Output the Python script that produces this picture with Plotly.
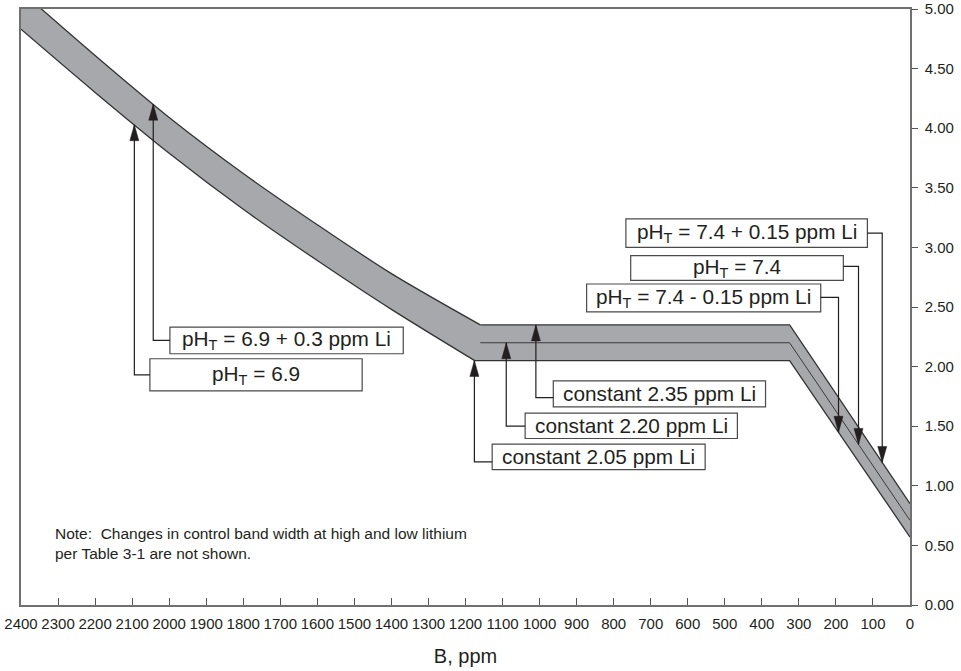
import numpy as np
import plotly.graph_objects as go

# ---- data -----------------------------------------------------------------
# Axis ticks
b_ticks = list(range(0, 2401, 100))
li_ticks = [0.0, 0.5, 1.0, 1.5, 2.0, 2.5, 3.0, 3.5, 4.0, 4.5, 5.0]

# Lower edge of the control band: pH_T = 6.9 curve ...
lower_curve_b = [2400, 2200, 2000, 1800, 1600, 1400, 1175]
lower_curve_li = [4.83, 4.30, 3.79, 3.32, 2.89, 2.48, 2.05]
# ... then constant 2.05 ppm Li and pH_T = 7.4 - 0.15
lower_line_b = [1175, 325, 0]
lower_line_li = [2.05, 2.05, 0.57]

# Upper edge: pH_T = 6.9 + 0.3 curve ...
upper_curve_b = [2400, 2200, 2000, 1800, 1600, 1400, 1160]
upper_curve_li = [5.15, 4.61, 4.09, 3.62, 3.19, 2.78, 2.35]
# ... then constant 2.35 ppm Li and pH_T = 7.4 + 0.15
upper_line_b = [1160, 325, 0]
upper_line_li = [2.35, 2.35, 0.85]

# Centre line: constant 2.20 ppm Li and pH_T = 7.4
middle_b = [1160, 325, 0]
middle_li = [2.20, 2.20, 0.71]

# Call-out labels and the line each one points at
label_text = [
    "pH<sub>T</sub> = 6.9 + 0.3 ppm Li",
    "pH<sub>T</sub> = 6.9",
    "constant 2.35 ppm Li",
    "constant 2.20 ppm Li",
    "constant 2.05 ppm Li",
    "pH<sub>T</sub> = 7.4 + 0.15 ppm Li",
    "pH<sub>T</sub> = 7.4",
    "pH<sub>T</sub> = 7.4 - 0.15 ppm Li",
]
label_target = ["upper", "lower", "upper", "middle", "lower", "upper", "middle", "lower"]

# ---- call-out layout (boron / lithium units) -------------------------------
box_b_left = [1998, 2052, 963, 1039, 1128, 767, 754, 873]
box_b_right = [1368, 1479, 390, 466, 553, 115, 180, 241]
box_li_bottom = [2.108, 1.796, 1.662, 1.397, 1.135, 3.000, 2.724, 2.459]
box_li_top = [2.331, 2.066, 1.880, 1.610, 1.350, 3.240, 2.931, 2.693]
arrow_b = [2043, 2094, 1010, 1090, 1176, 75, 139, 193]
elbow_li = [2.22, 1.93, 1.74, 1.50, 1.20, 3.12, 2.84, 2.58]

INK = "#231f20"
BAND = "#a7a8ab"
EDGE = "#333333"
FONT = "Liberation Sans, Arial, Helvetica, sans-serif"

curves = {
    "lower": (lower_curve_b + lower_line_b[1:], lower_curve_li + lower_line_li[1:]),
    "upper": (upper_curve_b + upper_line_b[1:], upper_curve_li + upper_line_li[1:]),
    "middle": (middle_b, middle_li),
}


def li_on(curve, b):
    xs, ys = curves[curve]
    return float(np.interp(b, xs[::-1], ys[::-1]))


fig = go.Figure()

# shaded band: curved section (smoothed) and straight section, each filled
# between its lower and upper edge
for lb, ll, ub, ul, shape in [
    (lower_curve_b, lower_curve_li, upper_curve_b, upper_curve_li, "spline"),
    (lower_line_b, lower_line_li, upper_line_b, upper_line_li, "linear"),
]:
    fig.add_trace(go.Scatter(x=lb, y=ll, mode="lines",
                             line=dict(width=0, shape=shape, smoothing=0.8),
                             hoverinfo="skip", showlegend=False))
    fig.add_trace(go.Scatter(x=ub, y=ul, mode="lines", fill="tonexty",
                             fillcolor=BAND,
                             line=dict(width=0, shape=shape, smoothing=0.8),
                             hoverinfo="skip", showlegend=False))

# hide the join between the two filled sections
fig.add_trace(go.Scatter(x=[upper_curve_b[-1], lower_curve_b[-1]],
                         y=[upper_curve_li[-1], lower_curve_li[-1]],
                         mode="lines", line=dict(color=BAND, width=1.5),
                         hoverinfo="skip", showlegend=False))

# band edges and centre line
for xs, ys, w, c, shape in [
    (upper_curve_b, upper_curve_li, 1.3, EDGE, "spline"),
    (lower_curve_b, lower_curve_li, 1.3, EDGE, "spline"),
    (upper_line_b, upper_line_li, 1.3, EDGE, "linear"),
    (lower_line_b, lower_line_li, 1.3, EDGE, "linear"),
    (middle_b, middle_li, 1.0, "#3a3a3a", "linear"),
]:
    fig.add_trace(go.Scatter(x=xs, y=ys, mode="lines",
                             line=dict(color=c, width=w, shape=shape, smoothing=0.8),
                             hoverinfo="skip", showlegend=False))

shapes = []
annotations = []
for i, txt in enumerate(label_text):
    b0, b1 = box_b_left[i], box_b_right[i]
    y0, y1 = box_li_bottom[i], box_li_top[i]
    ab = arrow_b[i]
    tip = li_on(label_target[i], ab)
    # box
    shapes.append(dict(type="rect", xref="x", yref="y", x0=b0, x1=b1, y0=y0, y1=y1,
                       line=dict(color="#4a4a4a", width=1.2), fillcolor="white",
                       layer="above"))
    annotations.append(dict(x=(b0 + b1) / 2, y=(y0 + y1) / 2, xref="x", yref="y",
                            text=txt, showarrow=False,
                            font=dict(family=FONT, size=20.8, color=INK)))
    # connector: box side -> elbow -> arrow tip
    edge = b0 if ab > b0 else b1
    ey = elbow_li[i]
    shapes.append(dict(type="path", xref="x", yref="y",
                       path=f"M{edge},{ey} L{ab},{ey} L{ab},{tip}",
                       line=dict(color=INK, width=1.2), layer="above"))
    # arrow head (pixel sized, anchored at the tip)
    if ey < tip:
        head = "M0,0 L-4.5,-16 L4.5,-16 Z"
    else:
        head = "M0,0 L-4.5,16 L4.5,16 Z"
    shapes.append(dict(type="path", xref="x", yref="y",
                       xsizemode="pixel", ysizemode="pixel",
                       xanchor=ab, yanchor=tip, path=head,
                       fillcolor=INK, line=dict(color=INK, width=0.5),
                       layer="above"))

# note
annotations.append(dict(
    x=0.036, y=0.104, xref="paper", yref="paper", xanchor="left", yanchor="middle",
    align="left", showarrow=False,
    text="Note:  Changes in control band width at high and low lithium<br>"
         "per Table 3-1 are not shown.",
    font=dict(family=FONT, size=15.5, color=INK),
))

fig.update_layout(
    width=961, height=671,
    margin=dict(l=21, r=51, t=9, b=66),
    paper_bgcolor="white", plot_bgcolor="white",
    font=dict(family=FONT, color=INK),
    shapes=shapes, annotations=annotations,
    showlegend=False,
)
fig.update_xaxes(
    range=[2400, 0], tickvals=b_ticks, tickformat="d",
    ticks="inside", ticklen=7, tickcolor="#555555", tickwidth=1.2,
    tickfont=dict(size=15, color=INK), ticklabelstandoff=4,
    ticklabeloverflow="allow",
    showline=True, mirror=True, linecolor="#707070", linewidth=1.5,
    showgrid=False, zeroline=False, automargin=False,
    title=dict(text="B, ppm", font=dict(size=20, color=INK), standoff=18),
)
fig.update_yaxes(
    range=[0, 5], side="right", tickvals=li_ticks, tickformat=".2f",
    ticks="outside", ticklen=6, tickcolor="#555555", tickwidth=1.2,
    tickfont=dict(size=15, color=INK), ticklabelstandoff=4,
    ticklabeloverflow="allow",
    showline=True, mirror=True, linecolor="#707070", linewidth=1.5,
    showgrid=False, zeroline=False, automargin=False,
)

fig.write_html("out.html")
